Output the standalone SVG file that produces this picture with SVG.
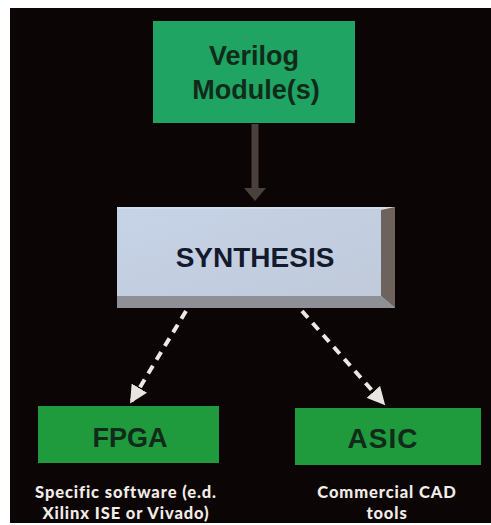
<svg xmlns="http://www.w3.org/2000/svg" width="491" height="525" viewBox="0 0 491 525">
<defs>
<style>
.green1{fill:#1fa463}
.green2{fill:#1f9a3c}
.lbl{font-family:"Liberation Sans",Arial,sans-serif;font-weight:bold;fill:#112a1a;text-anchor:middle}
.cap{font-family:Lato,"Open Sans",sans-serif;font-weight:900;fill:#f2ece6;text-anchor:middle;font-size:16.5px;letter-spacing:0.9px}
.dash{stroke:#ece8e4;stroke-width:4;stroke-dasharray:9,7;fill:none}
</style>
<marker id="wh" viewBox="0 0 10 10" refX="9" refY="5" markerWidth="4.5" markerHeight="4.5" orient="auto" markerUnits="strokeWidth">
<path d="M0,0 L10,5 L0,10 z" fill="#e8e4e0"/>
</marker>
<linearGradient id="face" x1="0" y1="0" x2="1" y2="1">
<stop offset="0" stop-color="#c6d3e6"/>
<stop offset="1" stop-color="#c0cadb"/>
</linearGradient>
</defs>
<rect x="0" y="0" width="491" height="525" fill="#ffffff"/>
<rect x="10" y="8" width="481" height="515" fill="#0c0505"/>

<g id="connectors">
<line x1="255" y1="124" x2="255" y2="190" stroke="#4a403c" stroke-width="7"/>
<path d="M244,188 L266,188 L255,201 z" fill="#4a403c"/>
<line class="dash" x1="186" y1="311" x2="131" y2="402" marker-end="url(#wh)"/>
<line class="dash" x1="302" y1="311" x2="384" y2="404" marker-end="url(#wh)"/>
</g>

<g id="verilog">
<rect class="green1" x="153" y="21" width="202" height="102"/>
<text class="lbl" x="254" y="65" font-size="27">Verilog</text>
<text class="lbl" x="256" y="99" font-size="27">Module(s)</text>
</g>

<g id="synthesis">
<rect x="117" y="207" width="278" height="101" fill="#d2dceb"/>
<path d="M381,210 L395,207 L395,308 L381,296 z" fill="#6e625c"/>
<path d="M117,296 L381,296 L395,308 L117,308 z" fill="#8f9096"/>
<rect x="117" y="209" width="264" height="87" fill="url(#face)"/>
<text x="255" y="267" font-family="'Liberation Sans',Arial,sans-serif" font-weight="bold" font-size="28" fill="#141a2e" text-anchor="middle">SYNTHESIS</text>
</g>

<g id="fpga">
<rect class="green2" x="38" y="406" width="181" height="57"/>
<text class="lbl" x="130" y="447" font-size="27">FPGA</text>
<text class="cap" x="126" y="498">Specific software (e.d.</text>
<text class="cap" x="126" y="519">Xilinx ISE or Vivado)</text>
</g>

<g id="asic">
<rect class="green2" x="295" y="408" width="186" height="57"/>
<text class="lbl" x="383" y="448" font-size="28" letter-spacing="1">ASIC</text>
<text class="cap" x="387" y="498">Commercial CAD</text>
<text class="cap" x="387" y="519">tools</text>
</g>
</svg>
